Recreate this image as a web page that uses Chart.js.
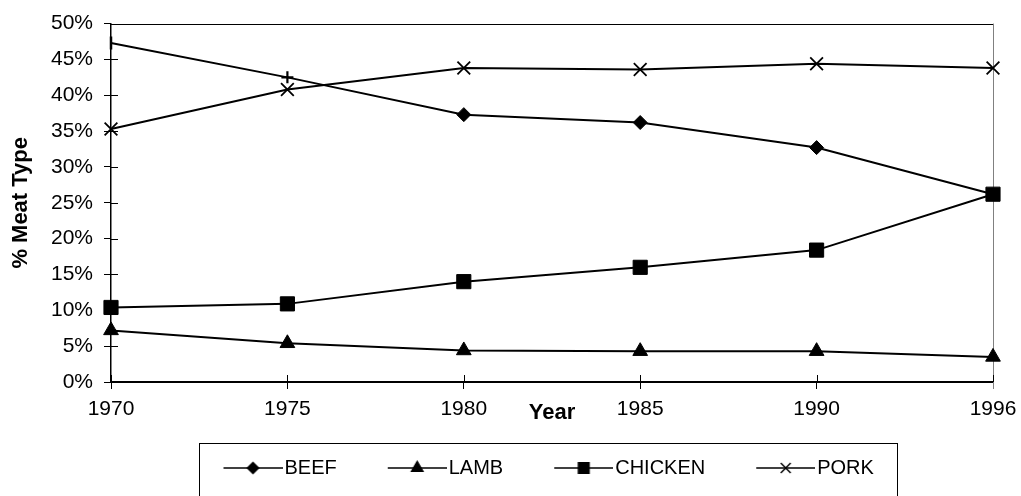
<!DOCTYPE html>
<html><head><meta charset="utf-8">
<script src="https://cdn.jsdelivr.net/npm/chart.js@4/dist/chart.umd.min.js"></script>
<style>html,body{margin:0;padding:0;background:#fff}</style>
</head><body>
<canvas id="c" width="1021" height="496" style="width:1021px;height:496px;display:block"></canvas>
<script>
const years = ['1970', '1975', '1980', '1985', '1990', '1996'];
const beef = [47.3, 42.5, 37.3, 36.2, 32.7, 26.2];
const lamb = [7.2, 5.4, 4.4, 4.3, 4.3, 3.5];
const chicken = [10.4, 10.9, 14.0, 16.0, 18.4, 26.2];
const pork = [35.3, 40.8, 43.8, 43.6, 44.4, 43.8];
const seriesNames = ['BEEF', 'LAMB', 'CHICKEN', 'PORK'];
const yMin = 0, yMax = 50, yStep = 5;

const FONT = "'Liberation Sans', Arial, sans-serif";

function legendSymbol(style, radius, rotation) {
  const cv = document.createElement('canvas');
  cv.width = 67; cv.height = 20;
  const c = cv.getContext('2d');
  c.strokeStyle = '#000'; c.lineWidth = 1.5;
  c.beginPath(); c.moveTo(8, 10); c.lineTo(67, 10); c.stroke();
  c.fillStyle = '#000';
  Chart.helpers.drawPoint(c, {pointStyle: style, radius: radius, rotation: rotation || 0, borderWidth: 1.3}, 37.5, 10);
  return cv;
}

const legendSyms = [
  legendSymbol('rectRot', 5.5),
  legendSymbol('triangle', 6.5),
  legendSymbol('rect', 7.5),
  legendSymbol('crossRot', 7)
];

const framePlugin = {
  id: 'frame',
  beforeDraw(chart) {
    const lg = chart.legend;
    const p = lg.options.labels.padding;
    lg.left = 172.5; lg.right = 1010;
    lg.top = 468 - p - 10; lg.bottom = 496;
  },
  beforeDatasetsDraw(chart) {
    const {ctx, chartArea: a, scales: {x, y}} = chart;
    ctx.save();
    ctx.lineWidth = 1;
    ctx.strokeStyle = '#000';
    ctx.beginPath(); ctx.moveTo(a.left, Math.round(a.top) + 0.5); ctx.lineTo(a.right, Math.round(a.top) + 0.5); ctx.stroke();
    ctx.strokeStyle = '#808080';
    ctx.beginPath(); ctx.moveTo(Math.round(a.right) + 0.5, a.top); ctx.lineTo(Math.round(a.right) + 0.5, a.bottom + 7); ctx.stroke();
    ctx.strokeStyle = '#000';
    ctx.beginPath();
    y.ticks.forEach((t, i) => {
      const py = Math.round(y.getPixelForTick(i)) + 0.5;
      ctx.moveTo(a.left, py); ctx.lineTo(a.left + 7, py);
    });
    x.ticks.forEach((t, i) => {
      const px = Math.round(x.getPixelForTick(i)) + 0.5;
      ctx.moveTo(px, a.bottom); ctx.lineTo(px, a.bottom - 7);
    });
    ctx.stroke();
    ctx.restore();
  },
  afterDraw(chart) {
    const ctx = chart.ctx;
    ctx.save();
    ctx.strokeStyle = '#000'; ctx.lineWidth = 1;
    ctx.strokeRect(199.5, 443.5, 698, 80);
    ctx.restore();
  }
};

const common = {borderColor: '#000', backgroundColor: '#000', borderWidth: 2, pointBackgroundColor: '#000', pointBorderColor: '#000', tension: 0, fill: false};

new Chart(document.getElementById('c'), {
  type: 'line',
  data: {
    labels: years,
    datasets: [
      Object.assign({}, common, {label: seriesNames[0], data: beef,
        pointStyle: ['line', 'cross', 'rectRot', 'rectRot', 'rectRot', 'rectRot'],
        pointRotation: [90, 0, 0, 0, 0, 0],
        pointRadius: [6.5, 6, 7, 7, 7, 5.5],
        pointBorderWidth: [2.5, 2.2, 1, 1, 1, 1]}),
      Object.assign({}, common, {label: seriesNames[1], data: lamb, pointStyle: 'triangle', pointRadius: 8.5, pointBorderWidth: 1}),
      Object.assign({}, common, {label: seriesNames[2], data: chicken, pointStyle: 'rect', pointRadius: 10, pointBorderWidth: 1}),
      Object.assign({}, common, {label: seriesNames[3], data: pork, pointStyle: 'crossRot', pointRadius: 9, pointBorderWidth: 1.8})
    ]
  },
  options: {
    responsive: false,
    animation: false,
    devicePixelRatio: 1,
    layout: {padding: {top: 22, right: 28, left: 0, bottom: 0}},
    plugins: {
      tooltip: {enabled: false},
      legend: {
        position: 'bottom',
        align: 'start',
        labels: {
          usePointStyle: true,
          pointStyleWidth: 51,
          padding: 51,
          color: '#000',
          font: {family: FONT, size: 20},
          generateLabels(chart) {
            const items = Chart.defaults.plugins.legend.labels.generateLabels(chart);
            return items.map((it, i) => Object.assign(it, {pointStyle: legendSyms[i], rotation: 0, lineWidth: 0}));
          }
        }
      }
    },
    scales: {
      x: {
        type: 'category',
        offset: false,
        grid: {display: true, drawOnChartArea: false, drawTicks: true, tickLength: 7, color: '#000', lineWidth: 1},
        border: {display: true, color: '#000', width: 2},
        ticks: {color: '#000', font: {family: FONT, size: 21}, padding: 8, maxRotation: 0, autoSkip: false},
        title: {display: true, text: 'Year', color: '#000', font: {family: FONT, size: 22, weight: 'bold', lineHeight: 0.2}, padding: 0},
        afterFit(s) { s.height = 33; s.paddingRight = 0; s.paddingLeft = 0; }
      },
      y: {
        min: yMin, max: yMax,
        grid: {display: true, drawOnChartArea: false, drawTicks: true, tickLength: 7, color: '#000', lineWidth: 1},
        border: {display: true, color: '#000', width: 1.5},
        ticks: {stepSize: yStep, color: '#000', font: {family: FONT, size: 21}, padding: 11, callback: v => v + '%'},
        title: {display: true, text: '% Meat Type', color: '#000', font: {family: FONT, size: 22, weight: 'bold'}, padding: {top: 8, bottom: 0}},
        afterFit(s) { s.width = 111; }
      }
    }
  },
  plugins: [framePlugin]
});
</script>
</body></html>
